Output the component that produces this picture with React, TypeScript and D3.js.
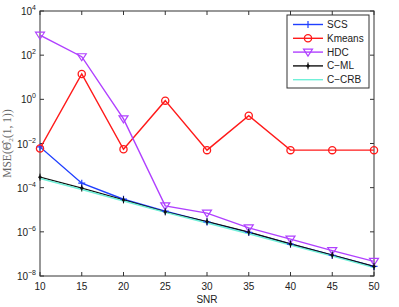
import React, { useEffect, useRef } from "react";
import * as d3 from "d3";

const snr = [10, 15, 20, 25, 30, 35, 40, 45, 50];
const scs = [7e-3, 1.6e-4, 3e-5, 8.7e-6, 2.8e-6, 9.5e-7, 2.8e-7, 8.7e-8, 2.7e-8];
const kmeans = [6e-3, 14, 5.5e-3, 0.87, 5e-3, 0.18, 5e-3, 5e-3, 5e-3];
const hdc = [800, 85, 0.13, 1.5e-5, 7e-6, 1.5e-6, 4.7e-7, 1.4e-7, 4.6e-8];
const cml = [3e-4, 9.6e-5, 2.8e-5, 8e-6, 2.9e-6, 9.7e-7, 2.8e-7, 8.8e-8, 2.7e-8];
const ccrb = [2.6e-4, 8.3e-5, 2.5e-5, 7.6e-6, 2.5e-6, 8.2e-7, 2.5e-7, 8e-8, 2.4e-8];
const yTicks = [-8, -6, -4, -2, 0, 2, 4];
const xTicks = [10, 15, 20, 25, 30, 35, 40, 45, 50];

const series = [
  { name: "SCS", values: scs, color: "#1f3fff", marker: "plus" },
  { name: "Kmeans", values: kmeans, color: "#ff1a1a", marker: "circle" },
  { name: "HDC", values: hdc, color: "#b040ff", marker: "tri" },
  { name: "C-ML", values: cml, color: "#111111", marker: "dot" },
  { name: "C-CRB", values: ccrb, color: "#70f0d8", marker: "none" },
];

const App = () => {
  const svgRef = useRef(null);

  useEffect(() => {
    const W = 399, H = 307;
    const m = { top: 11, right: 25, bottom: 31, left: 40 };
    const w = W - m.left - m.right;
    const h = H - m.top - m.bottom;
    const font = "Arial, Helvetica, 'Liberation Sans', sans-serif";

    const root = d3.select(svgRef.current);
    root.selectAll("*").remove();
    root.attr("width", W).attr("height", H);
    root.append("rect").attr("width", W).attr("height", H).attr("fill", "#fff");

    const g = root.append("g").attr("transform", `translate(${m.left},${m.top})`);

    const x = d3.scaleLinear().domain([10, 50]).range([0, w]);
    const y = d3.scaleLog().domain([1e-8, 1e4]).range([h, 0]);

    const clip = g.append("clipPath").attr("id", "clip");
    clip.append("rect").attr("width", w).attr("height", h);

    // box
    g.append("rect").attr("width", w).attr("height", h)
      .attr("fill", "none").attr("stroke", "#333").attr("stroke-width", 1);

    const tl = 4;
    xTicks.forEach((t) => {
      const px = x(t);
      g.append("line").attr("x1", px).attr("x2", px).attr("y1", h).attr("y2", h - tl).attr("stroke", "#333");
      g.append("line").attr("x1", px).attr("x2", px).attr("y1", 0).attr("y2", tl).attr("stroke", "#333");
      g.append("text").attr("x", px).attr("y", h + 14).attr("text-anchor", "middle")
        .attr("font-family", font).attr("font-size", 10).attr("fill", "#222").text(t);
    });
    yTicks.forEach((e) => {
      const py = y(Math.pow(10, e));
      g.append("line").attr("x1", 0).attr("x2", tl).attr("y1", py).attr("y2", py).attr("stroke", "#333");
      g.append("line").attr("x1", w).attr("x2", w - tl).attr("y1", py).attr("y2", py).attr("stroke", "#333");
      const txt = g.append("text").attr("x", -4).attr("y", py + 4).attr("text-anchor", "end")
        .attr("font-family", font).attr("font-size", 10).attr("fill", "#222");
      txt.append("tspan").text("10");
      txt.append("tspan").attr("dy", -5).attr("font-size", 7).text(String(e).replace("-", "\u2212"));
    });

    g.append("text").attr("x", w / 2).attr("y", h + 27).attr("text-anchor", "middle")
      .attr("font-family", font).attr("font-size", 10).attr("fill", "#222").text("SNR");

    g.append("text")
      .attr("transform", `translate(${-29},${h / 2}) rotate(-90)`)
      .attr("text-anchor", "middle").attr("font-family", "'Liberation Serif', 'Times New Roman', serif")
      .attr("font-size", 11.5).attr("fill", "#666")
      .text("MSE(\u0398\u0302\u2082(1, 1))");

    const line = d3.line<number>().x((_, i) => x(snr[i])).y((d) => y(d));

    const drawMarker = (sel, type, color, cx, cy) => {
      if (type === "plus") {
        sel.append("path").attr("d", `M${cx - 3.5},${cy}H${cx + 3.5}M${cx},${cy - 3.5}V${cy + 3.5}`)
          .attr("stroke", color).attr("stroke-width", 1.2).attr("fill", "none");
      } else if (type === "circle") {
        sel.append("circle").attr("cx", cx).attr("cy", cy).attr("r", 3.6)
          .attr("stroke", color).attr("stroke-width", 1.3).attr("fill", "none");
      } else if (type === "tri") {
        sel.append("path").attr("d", `M${cx - 4.5},${cy - 3}L${cx + 4.5},${cy - 3}L${cx},${cy + 4}Z`)
          .attr("stroke", color).attr("stroke-width", 1.2).attr("fill", "none");
      } else if (type === "dot") {
        sel.append("path").attr("d", `M${cx},${cy - 3.5}V${cy + 3.5}`).attr("stroke", color).attr("stroke-width", 1);
        sel.append("path").attr("d", `M${cx},${cy - 2.2}L${cx + 2},${cy}L${cx},${cy + 2.2}L${cx - 2},${cy}Z`)
          .attr("fill", color);
      }
    };

    const plot = g.append("g").attr("clip-path", "url(#clip)");
    series.forEach((s) => {
      plot.append("path").datum(s.values).attr("d", line)
        .attr("fill", "none").attr("stroke", s.color).attr("stroke-width", 1.4);
    });
    series.forEach((s) => {
      s.values.forEach((v, i) => drawMarker(g, s.marker, s.color, x(snr[i]), y(v)));
    });

    // legend
    const lg = root.append("g").attr("transform", "translate(287,15)");
    lg.append("rect").attr("width", 82).attr("height", 73).attr("fill", "#fff").attr("stroke", "#333");
    series.forEach((s, i) => {
      const ly = 9.5 + i * 13.8;
      lg.append("line").attr("x1", 6).attr("x2", 36).attr("y1", ly).attr("y2", ly)
        .attr("stroke", s.color).attr("stroke-width", 1.4);
      drawMarker(lg, s.marker, s.color, 21, ly);
      lg.append("text").attr("x", 40).attr("y", ly + 3.5).attr("font-family", font)
        .attr("font-size", 10).attr("fill", "#222").text(s.name.replace("-", "\u2212"));
    });
  }, []);

  return <svg ref={svgRef} style={{ position: "absolute", left: 0, top: 0 }}></svg>;
};

export default App;
